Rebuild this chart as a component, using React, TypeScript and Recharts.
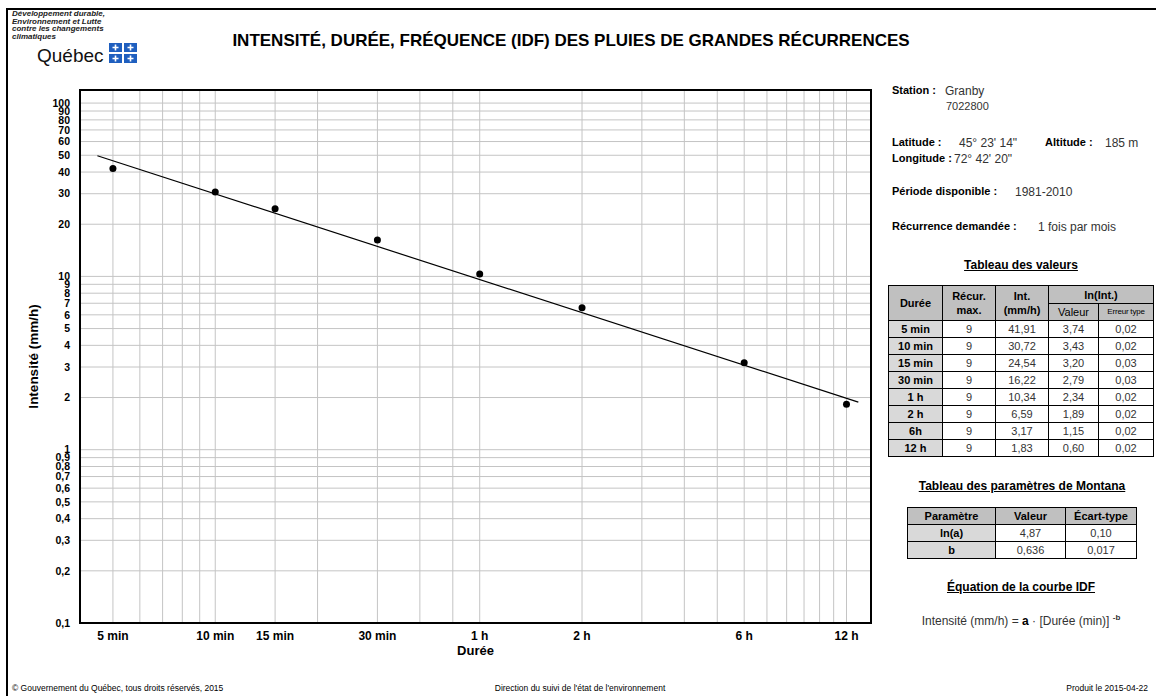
import React from "react"
import {
  ComposedChart,
  Line,
  Scatter,
  XAxis,
  YAxis,
  CartesianGrid,
  ReferenceArea,
  Label,
} from "recharts"

// observed values (table)
const durations = [5, 10, 15, 30, 60, 120, 360, 720]
const durationNames = ["5 min", "10 min", "15 min", "30 min", "1 h", "2 h", "6h", "12 h"]
const recurMax = [9, 9, 9, 9, 9, 9, 9, 9]
const intensities = [41.91, 30.72, 24.54, 16.22, 10.34, 6.59, 3.17, 1.83]
const lnIntensities = [3.74, 3.43, 3.2, 2.79, 2.34, 1.89, 1.15, 0.6]
const lnErrors = [0.02, 0.02, 0.03, 0.03, 0.02, 0.02, 0.02, 0.02]

// fitted IDF line, ends
const fitDurations = [4.5, 780]
const fitIntensities = [49.7, 1.88]

// Montana params
const paramNames = ["ln(a)", "b"]
const paramValues = ["4,87", "0,636"]
const paramStd = ["0,10", "0,017"]

// axes
const xGridTicks = [5, 6, 7, 8, 9, 10, 15, 20, 30, 40, 50, 60, 120, 180, 240, 300, 360, 420, 480, 540, 600, 660, 720]
const xLabelValues = [5, 10, 15, 30, 60, 120, 360, 720]
const xLabelTexts = ["5 min", "10 min", "15 min", "30 min", "1 h", "2 h", "6 h", "12 h"]
const yTicks = [
  0.1, 0.2, 0.3, 0.4, 0.5, 0.6, 0.7, 0.8, 0.9,
  1, 2, 3, 4, 5, 6, 7, 8, 9,
  10, 20, 30, 40, 50, 60, 70, 80, 90, 100,
]

const FONT = '"Liberation Sans", Arial, sans-serif'

const pointData = durations.map((d, i) => ({ d, i: intensities[i] }))
const fitData = fitDurations.map((d, i) => ({ d, i: fitIntensities[i] }))

const fmt = (v: number, n: number) => v.toFixed(n).replace(".", ",")

function T({
  x,
  y,
  size = 11,
  bold = false,
  children,
  center = false,
  right = false,
  style = {},
}: {
  x: number
  y: number
  size?: number
  bold?: boolean
  children: React.ReactNode
  center?: boolean
  right?: boolean
  style?: React.CSSProperties
}) {
  const pos: React.CSSProperties = center
    ? { left: x, transform: "translateX(-50%)" }
    : right
      ? { right: 1156 - x }
      : { left: x }
  return (
    <div
      style={{
        position: "absolute",
        top: y - size * 0.6,
        fontSize: size,
        lineHeight: `${size * 1.2}px`,
        fontWeight: bold ? "bold" : "normal",
        whiteSpace: "nowrap",
        color: "#000",
        ...pos,
        ...style,
      }}
    >
      {children}
    </div>
  )
}

const cell: React.CSSProperties = {
  border: "1px solid #000",
  padding: 0,
  textAlign: "center",
  fontSize: 11,
  lineHeight: "14px",
}
const headGray = "#c0c0c0"
const sideGray = "#d9d9d9"
const valColor = "#333"

function ValuesTable() {
  return (
    <table
      style={{
        position: "absolute",
        left: 888,
        top: 285,
        borderCollapse: "collapse",
        tableLayout: "fixed",
        fontFamily: FONT,
      }}
    >
      <colgroup>
        <col style={{ width: 54 }} />
        <col style={{ width: 53 }} />
        <col style={{ width: 53 }} />
        <col style={{ width: 50 }} />
        <col style={{ width: 55 }} />
      </colgroup>
      <tbody>
        <tr style={{ height: 18 }}>
          <td rowSpan={2} style={{ ...cell, background: headGray, fontWeight: "bold" }}>Durée</td>
          <td rowSpan={2} style={{ ...cell, background: headGray, fontWeight: "bold" }}>
            Récur.
            <br />
            max.
          </td>
          <td rowSpan={2} style={{ ...cell, background: headGray, fontWeight: "bold" }}>
            Int.
            <br />
            (mm/h)
          </td>
          <td colSpan={2} style={{ ...cell, background: headGray, fontWeight: "bold" }}>ln(Int.)</td>
        </tr>
        <tr style={{ height: 17 }}>
          <td style={{ ...cell, background: headGray }}>Valeur</td>
          <td style={{ ...cell, background: headGray, fontSize: 8, letterSpacing: -0.2 }}>Erreur type</td>
        </tr>
        {durations.map((d, k) => (
          <tr key={d} style={{ height: 17 }}>
            <td style={{ ...cell, background: sideGray, fontWeight: "bold" }}>{durationNames[k]}</td>
            <td style={{ ...cell, color: valColor }}>{recurMax[k]}</td>
            <td style={{ ...cell, color: valColor }}>{fmt(intensities[k], 2)}</td>
            <td style={{ ...cell, color: valColor }}>{fmt(lnIntensities[k], 2)}</td>
            <td style={{ ...cell, color: valColor }}>{fmt(lnErrors[k], 2)}</td>
          </tr>
        ))}
      </tbody>
    </table>
  )
}

function MontanaTable() {
  return (
    <table
      style={{
        position: "absolute",
        left: 907,
        top: 507,
        borderCollapse: "collapse",
        tableLayout: "fixed",
        fontFamily: FONT,
      }}
    >
      <colgroup>
        <col style={{ width: 88 }} />
        <col style={{ width: 70 }} />
        <col style={{ width: 71 }} />
      </colgroup>
      <tbody>
        <tr style={{ height: 17 }}>
          <td style={{ ...cell, background: headGray, fontWeight: "bold" }}>Paramètre</td>
          <td style={{ ...cell, background: headGray, fontWeight: "bold" }}>Valeur</td>
          <td style={{ ...cell, background: headGray, fontWeight: "bold" }}>Écart-type</td>
        </tr>
        {paramNames.map((p, k) => (
          <tr key={p} style={{ height: 17 }}>
            <td style={{ ...cell, background: sideGray, fontWeight: "bold" }}>{p}</td>
            <td style={{ ...cell, color: valColor }}>{paramValues[k]}</td>
            <td style={{ ...cell, color: valColor }}>{paramStd[k]}</td>
          </tr>
        ))}
      </tbody>
    </table>
  )
}

function Flag() {
  const blue = "#1f5fbf"
  return (
    <svg width={29} height={20} style={{ position: "absolute", left: 109, top: 43 }}>
      {[0, 1].map((r) =>
        [0, 1].map((c) => (
          <g key={`${r}${c}`}>
            <rect x={c * 15} y={r * 11} width={13} height={9} fill={blue} />
            <path
              d={`M${c * 15 + 6.5} ${r * 11 + 1.5} v6 M${c * 15 + 3.5} ${r * 11 + 4.5} h6`}
              stroke="#fff"
              strokeWidth={1.6}
            />
          </g>
        )),
      )}
    </svg>
  )
}

export default function App() {
  const xTickFormatter = (v: number) => {
    const idx = xLabelValues.indexOf(v)
    return idx >= 0 ? xLabelTexts[idx] : ""
  }

  return (
    <div
      style={{
        position: "absolute",
        left: 0,
        top: 0,
        width: 1156,
        height: 696,
        background: "#fff",
        fontFamily: FONT,
        overflow: "hidden",
      }}
    >
      {/* page frame */}
      <div
        style={{
          position: "absolute",
          left: 6,
          top: 8,
          width: 1160,
          height: 700,
          borderTop: "2px solid #000",
          borderLeft: "2px solid #000",
        }}
      />

      {/* logo */}
      <div
        style={{
          position: "absolute",
          left: 12,
          top: 10,
          fontSize: 8,
          lineHeight: "7.6px",
          fontWeight: "bold",
          fontStyle: "italic",
          color: "#222",
        }}
      >
        Développement durable,
        <br />
        Environnement et Lutte
        <br />
        contre les changements
        <br />
        climatiques
      </div>
      <T x={37} y={56} size={19} style={{ color: "#111" }}>Québec</T>
      <Flag />

      <T x={571} y={41} size={17} bold center>
        INTENSITÉ, DURÉE, FRÉQUENCE (IDF) DES PLUIES DE GRANDES RÉCURRENCES
      </T>

      <div style={{ position: "absolute", left: 0, top: 0 }}>
        <ComposedChart
          width={900}
          height={696}
          margin={{ top: 90, right: 29, bottom: 43, left: 20 }}
        >
          <CartesianGrid stroke="#c4c4c4" strokeWidth={1} />
          <XAxis
            dataKey="d"
            type="number"
            scale="log"
            domain={[4, 850]}
            allowDataOverflow
            ticks={xGridTicks}
            interval={0}
            tickFormatter={xTickFormatter}
            tickLine={false}
            axisLine={false}
            tickMargin={2}
            height={30}
            tick={{ fontSize: 12, fontWeight: "bold", fill: "#000", fontFamily: FONT }}
          >
            <Label
              value="Durée"
              position="bottom"
              offset={-7}
              style={{ fontSize: 13, fontWeight: "bold", fill: "#000", fontFamily: FONT }}
            />
          </XAxis>
          <YAxis
            dataKey="i"
            type="number"
            scale="log"
            domain={[0.1, 119]}
            allowDataOverflow
            ticks={yTicks}
            interval={0}
            tickFormatter={(v: number) => String(v).replace(".", ",")}
            tickLine={false}
            axisLine={false}
            tickMargin={4}
            width={60}
            tick={{ fontSize: 10.5, fontWeight: "bold", fill: "#000", fontFamily: FONT }}
          >
            <Label
              value="Intensité (mm/h)"
              angle={-90}
              position="insideLeft"
              offset={13}
              style={{ fontSize: 13.5, fontWeight: "bold", fill: "#000", fontFamily: FONT, textAnchor: "middle" }}
            />
          </YAxis>
          <ReferenceArea
            x1={4}
            x2={850}
            y1={0.1}
            y2={119}
            fill="none"
            stroke="#000"
            strokeWidth={2}
            ifOverflow="visible"
          />
          <Line
            data={fitData}
            dataKey="i"
            type="linear"
            stroke="#000"
            strokeWidth={1.2}
            dot={false}
            activeDot={false}
            isAnimationActive={false}
          />
          <Scatter
            data={pointData}
            dataKey="i"
            fill="#000"
            isAnimationActive={false}
            shape={(p: any) => <circle cx={p.cx} cy={p.cy} r={3.5} fill="#000" />}
          />
        </ComposedChart>
      </div>

      {/* right panel */}
      <T x={892} y={91} bold>Station :</T>
      <T x={945} y={91} size={12} style={{ color: valColor }}>Granby</T>
      <T x={946} y={107} size={11} style={{ color: valColor }}>7022800</T>

      <T x={892} y={143} bold>Latitude :</T>
      <T x={959} y={143} size={12} style={{ color: valColor }}>45° 23' 14"</T>
      <T x={1045} y={143} bold>Altitude :</T>
      <T x={1105} y={143} size={12} style={{ color: valColor }}>185 m</T>
      <T x={892} y={159} bold>Longitude :</T>
      <T x={954} y={159} size={12} style={{ color: valColor }}>72° 42' 20"</T>

      <T x={892} y={192} bold>Période disponible :</T>
      <T x={1015} y={192} size={12} style={{ color: valColor }}>1981-2010</T>

      <T x={892} y={227} bold>Récurrence demandée :</T>
      <T x={1038} y={227} size={12} style={{ color: valColor }}>1 fois par mois</T>

      <T x={1021} y={265} size={12} bold center style={{ textDecoration: "underline" }}>
        Tableau des valeurs
      </T>
      <ValuesTable />

      <T x={1022} y={486} size={12} bold center style={{ textDecoration: "underline" }}>
        Tableau des paramètres de Montana
      </T>
      <MontanaTable />

      <T x={1021} y={587} size={12} bold center style={{ textDecoration: "underline" }}>
        Équation de la courbe IDF
      </T>
      <T x={1021} y={618} size={12} center style={{ color: valColor }}>
        Intensité (mm/h) = <b style={{ color: "#000" }}>a</b> · [Durée (min)]{" "}
        <sup style={{ fontSize: 8, fontWeight: "bold" }}>-b</sup>
      </T>

      {/* footer */}
      <T x={12} y={688} size={8.5}>© Gouvernement du Québec, tous droits réservés, 2015</T>
      <T x={580} y={688} size={8.5} center>Direction du suivi de l'état de l'environnement</T>
      <T x={1148} y={688} size={8.5} right>Produit le 2015-04-22</T>
    </div>
  )
}
